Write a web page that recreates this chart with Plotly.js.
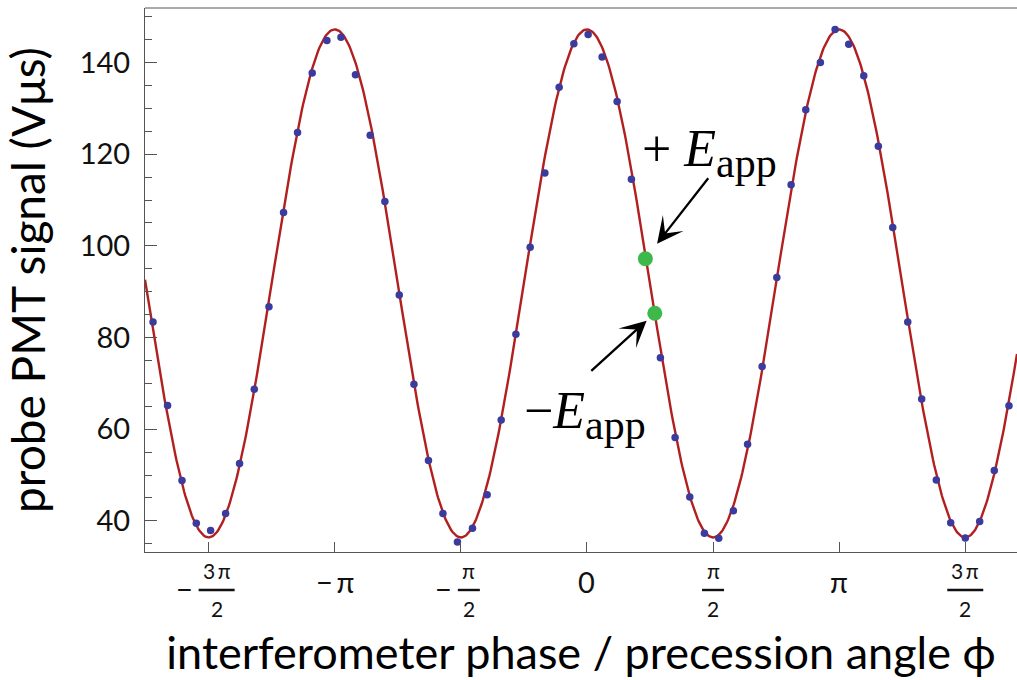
<!DOCTYPE html>
<html>
<head>
<meta charset="utf-8">
<script src="https://cdn.plot.ly/plotly-3.0.1.min.js"></script>
<style>html,body{margin:0;padding:0;background:#fff;}#chart{width:1017px;height:680px;}</style>
</head>
<body>
<div id="chart"></div>
<script>
// ---- measured data (phase in rad, signal in Vμs) ----
var phaseData = [-5.405,-5.224,-5.044,-4.866,-4.688,-4.501,-4.327,-4.144,-3.961,-3.779,-3.605,-3.422,-3.239,-3.064,-2.883,-2.700,-2.517,-2.338,-2.155,-1.974,-1.794,-1.613,-1.426,-1.243,-1.068,-0.885,-0.707,-0.524,-0.346,-0.163,0.015,0.189,0.376,0.554,0.915,1.098,1.281,1.463,1.642,1.824,2.001,2.182,2.365,2.543,2.726,2.908,3.091,3.261,3.448,3.630,3.809,3.996,4.170,4.352,4.531,4.713,4.892,5.074,5.257];
var signalData = [83.4,65.2,48.8,39.5,37.9,41.6,52.5,68.7,86.7,107.3,124.7,137.7,144.8,145.5,137.3,124.1,109.7,89.3,69.8,53.2,41.6,35.4,38.4,45.7,62.0,80.7,99.7,115.9,134.6,144.1,146.1,141.2,131.5,114.5,75.6,58.2,45.2,37.3,36.2,42.2,56.7,73.7,93.1,113.3,129.7,140.0,147.2,144.0,137.1,121.7,104.0,83.4,66.6,48.9,39.6,36.3,39.9,51.0,65.1];
// ---- points with applied field ----
var fieldPhase = [0.728, 0.845];
var fieldSignal = [97.2, 85.3];
var fieldLabels = ['+ <i>E</i><sub><span style="font-size:42px">app</span></sub>',
                   '\u2212<i>E</i><sub><span style="font-size:42px">app</span></sub>'];
// ---- fit parameters: signal = offset + amplitude * cos(2 phi) ----
var fitOffset = 91.8;
var fitAmplitude = 55.4;
var fitFrequency = 2;
// ---- tick labels ----
var PI = Math.PI;
var xTickVals = [-1.5*PI, -PI, -0.5*PI, 0, 0.5*PI, PI, 1.5*PI];
var xTickSign = ['\u2212', '', '\u2212', '', '', '', ''];
var xTickNum  = ['3\u2009\u03c0', '\u2212\u2009\u03c0', '\u03c0', '0', '\u03c0', '\u03c0', '3\u2009\u03c0'];
var xTickDen  = ['2', '', '2', '', '2', '', '2'];
var xRange = [-5.505, 5.357];
var yRange = [33.22, 151.88];

// fit curve
var fitX = [], fitY = [];
var N = 800;
for (var i = 0; i <= N; i++) {
  var xv = xRange[0] + (xRange[1]-xRange[0]) * i / N;
  fitX.push(xv);
  fitY.push(fitOffset + fitAmplitude * Math.cos(fitFrequency * xv));
}

var traces = [
  {x: fitX, y: fitY, mode: 'lines', line: {color: '#b21f1f', width: 2.4}, hoverinfo: 'skip'},
  {x: phaseData, y: signalData, mode: 'markers', marker: {color: '#3b3b9e', size: 7.5}},
  {x: fieldPhase, y: fieldSignal, mode: 'markers', marker: {color: '#3db84a', size: 15}}
];

var tickFont = {family: 'Lato, sans-serif', size: 29, color: '#111'};
var fracFont = {family: 'Lato, sans-serif', size: 21, color: '#111'};
var annotations = [];
var shapes = [];

for (var k = 0; k < xTickVals.length; k++) {
  var tv = xTickVals[k];
  if (xTickDen[k]) {
    var w = xTickNum[k].length > 1 ? 36 : 22;
    var shift = xTickSign[k] ? 8 : 0;
    annotations.push({x: tv, y: 0, xref: 'x', yref: 'paper', text: xTickNum[k], showarrow: false,
      xanchor: 'center', yanchor: 'middle', xshift: shift, yshift: -18, font: fracFont});
    annotations.push({x: tv, y: 0, xref: 'x', yref: 'paper', text: xTickDen[k], showarrow: false,
      xanchor: 'center', yanchor: 'middle', xshift: shift, yshift: -56, font: fracFont});
    shapes.push({type: 'line', xref: 'x', yref: 'paper', xsizemode: 'pixel', ysizemode: 'pixel',
      xanchor: tv, yanchor: 0, x0: shift - w/2, x1: shift + w/2, y0: -38, y1: -38,
      line: {color: '#111', width: 2.4}});
    if (xTickSign[k]) {
      annotations.push({x: tv, y: 0, xref: 'x', yref: 'paper', text: xTickSign[k], showarrow: false,
        xanchor: 'center', yanchor: 'middle', xshift: shift - w/2 - 14, yshift: -36, font: tickFont});
    }
  } else {
    annotations.push({x: tv, y: 0, xref: 'x', yref: 'paper', text: xTickNum[k], showarrow: false,
      xanchor: 'center', yanchor: 'middle', yshift: -29, font: tickFont});
  }
}

// frame top line
shapes.push({type: 'line', xref: 'paper', yref: 'paper', x0: 0, x1: 1, y0: 1, y1: 1,
  line: {color: '#555', width: 1}});

// arrows + labels for applied field points
var arrowStyle = {arrowhead: 3, arrowsize: 1.9, arrowwidth: 2.3, arrowcolor: '#000'};
annotations.push(Object.assign({x: fieldPhase[0], y: fieldSignal[0], xref: 'x', yref: 'y', text: '',
  showarrow: true, ax: 64, ay: -82, standoff: 19}, arrowStyle));
annotations.push(Object.assign({x: fieldPhase[1], y: fieldSignal[1], xref: 'x', yref: 'y', text: '',
  showarrow: true, ax: -65, ay: 59, standoff: 11}, arrowStyle));
var labelFont = {family: '"Liberation Serif", serif', size: 52, color: '#000'};
annotations.push({x: fieldPhase[0], y: fieldSignal[0], xref: 'x', yref: 'y', text: fieldLabels[0], showarrow: false,
  xanchor: 'center', yanchor: 'middle', xshift: 64, yshift: 106, font: labelFont});
annotations.push({x: fieldPhase[1], y: fieldSignal[1], xref: 'x', yref: 'y', text: fieldLabels[1], showarrow: false,
  xanchor: 'center', yanchor: 'middle', xshift: -70, yshift: -102, font: labelFont});

var layout = {
  width: 1017, height: 680,
  margin: {l: 145, r: 0, t: 8, b: 128},
  paper_bgcolor: '#fff', plot_bgcolor: '#fff',
  showlegend: false,
  xaxis: {
    range: xRange, showgrid: false, zeroline: false,
    showline: true, linecolor: '#555', linewidth: 1,
    tickmode: 'array', tickvals: xTickVals, showticklabels: false,
    ticks: 'inside', ticklen: 10, tickcolor: '#555', tickwidth: 1,
    title: {text: 'interferometer phase / precession angle \u03d5', standoff: 85,
      font: {family: 'Lato, sans-serif', size: 45, color: '#000'}}
  },
  yaxis: {
    range: yRange, showgrid: false, zeroline: false,
    showline: true, linecolor: '#555', linewidth: 1,
    tick0: 0, dtick: 20, ticks: 'inside', ticklen: 12, tickcolor: '#555', tickwidth: 1,
    minor: {dtick: 5, tick0: 0, ticks: 'inside', ticklen: 7, tickcolor: '#555', tickwidth: 1, showgrid: false},
    ticklabelstandoff: 8,
    tickfont: tickFont,
    title: {text: 'probe PMT signal (V\u03bcs)', standoff: 20,
      font: {family: 'Lato, sans-serif', size: 46, color: '#000'}}
  },
  annotations: annotations,
  shapes: shapes
};

Plotly.newPlot('chart', traces, layout, {displayModeBar: false, staticPlot: true});
</script>
</body>
</html>
